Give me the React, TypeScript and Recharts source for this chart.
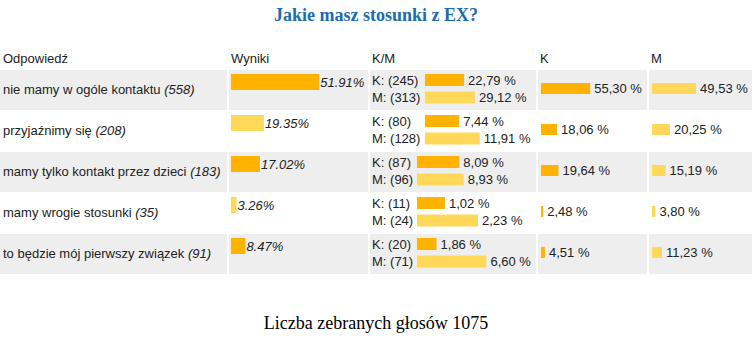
import { BarChart, Bar, XAxis, YAxis, LabelList, Cell } from "recharts";

const answers = [
  "nie mamy w ogóle kontaktu",
  "przyjaźnimy się",
  "mamy tylko kontakt przez dzieci",
  "mamy wrogie stosunki",
  "to będzie mój pierwszy związek",
];
const counts = [558, 208, 183, 35, 91];
const resultPct = [51.91, 19.35, 17.02, 3.26, 8.47];
const kCounts = [245, 80, 87, 11, 20];
const mCounts = [313, 128, 96, 24, 71];
const kOfAll = [22.79, 7.44, 8.09, 1.02, 1.86];
const mOfAll = [29.12, 11.91, 8.93, 2.23, 6.6];
const kShare = [55.3, 18.06, 19.64, 2.48, 4.51];
const mShare = [49.53, 20.25, 15.19, 3.8, 11.23];
const headers = ["Odpowiedź", "Wyniki", "K/M", "K", "M"];
const title = "Jakie masz stosunki z EX?";
const totalVotes = 1075;

const ORANGE = "#FFB300";
const LIGHT = "#FFD85A";
const GRAY = "#EEEEEE";
const TXT = "#222";
const SANS = "'Liberation Sans', Arial, sans-serif";
const SERIF = "'Liberation Serif', 'Times New Roman', serif";

const ROW_TOP = 70;
const ROW_H = 41;
const CELL_H = 40;
// cell left edge / width per column (2px white spacing between cells)
const cols = [
  { x: 0, w: 227 },
  { x: 229, w: 139 },
  { x: 370, w: 166 },
  { x: 538, w: 109 },
  { x: 649, w: 103 },
];
const headerX = [3, 231, 372, 540, 651];

const fmtPl = (v: number) => v.toFixed(2).replace(".", ",") + " %";

// text placed just right of a bar, vertically centred on it
function barText(offset: number, italic = false) {
  return (p: any) => {
    const vb = p.viewBox ?? p;
    return (
      <text
        x={vb.x + vb.width + offset}
        y={vb.y + vb.height / 2}
        dy={4.5}
        fontSize={13}
        fill={TXT}
        fontFamily={SANS}
        fontStyle={italic ? "italic" : "normal"}
        textAnchor="start"
      >
        {p.value}
      </text>
    );
  };
}

export default function App() {
  const resultData = answers.map((a, i) => ({
    name: a,
    value: resultPct[i],
    label: resultPct[i].toFixed(2) + "%",
    color: i % 2 === 0 ? ORANGE : LIGHT,
  }));
  const kData = answers.map((a, i) => ({ name: a, value: kShare[i], label: fmtPl(kShare[i]) }));
  const mData = answers.map((a, i) => ({ name: a, value: mShare[i], label: fmtPl(mShare[i]) }));

  return (
    <div style={{ position: "absolute", left: 0, top: 0, width: 752, height: 356, background: "#fff", fontFamily: SANS, color: TXT, overflow: "hidden" }}>
      <div style={{ position: "absolute", left: 0, top: 6, width: 752, textAlign: "center", fontFamily: SERIF, fontWeight: "bold", fontSize: 18, lineHeight: "18px", color: "#1b6cb0" }}>
        {title}
      </div>

      {headers.map((h, i) => (
        <div key={h} style={{ position: "absolute", left: headerX[i], top: 51, fontSize: 13, lineHeight: "15px", whiteSpace: "nowrap" }}>{h}</div>
      ))}

      {/* row backgrounds */}
      {answers.map((_, r) =>
        r % 2 === 0
          ? cols.map((c, ci) => (
              <div key={`${r}-${ci}`} style={{ position: "absolute", left: c.x, top: ROW_TOP + r * ROW_H, width: c.w, height: CELL_H, background: GRAY }} />
            ))
          : null
      )}

      {/* answer labels */}
      {answers.map((a, r) => (
        <div key={a} style={{ position: "absolute", left: 3, top: ROW_TOP + r * ROW_H + 12, fontSize: 13, lineHeight: "15px", whiteSpace: "nowrap" }}>
          {a} <i>({counts[r]})</i>
        </div>
      ))}

      {/* Wyniki column */}
      <div style={{ position: "absolute", left: 229, top: ROW_TOP - 9 }}>
        <BarChart width={172} height={ROW_H * 5} data={resultData} layout="vertical" margin={{ top: 0, right: 0, bottom: 0, left: 2 }} style={{ overflow: "visible" }}>
          <XAxis type="number" domain={[0, 100]} hide />
          <YAxis type="category" dataKey="name" hide />
          <Bar dataKey="value" barSize={16} isAnimationActive={false}>
            {resultData.map((d, i) => (
              <Cell key={i} fill={d.color} />
            ))}
            <LabelList dataKey="label" content={barText(1, true)} />
          </Bar>
        </BarChart>
      </div>

      {/* K/M column, one small chart per row */}
      {answers.map((_, r) => {
        const k = kCounts[r];
        const m = mCounts[r];
        const rows = [
          { label: `K: (${k})`, value: (k / (k + m)) * 100, txt: fmtPl(kOfAll[r]), color: ORANGE },
          { label: `M: (${m})`, value: (m / (k + m)) * 100, txt: fmtPl(mOfAll[r]), color: LIGHT },
        ];
        const labelW = Math.max(k, m) >= 100 ? 55 : 47;
        return (
          <div key={r} style={{ position: "absolute", left: 370, top: ROW_TOP + r * ROW_H }}>
            <BarChart width={labelW + 89 + 70} height={36} data={rows} layout="vertical" margin={{ top: 1, right: 70, bottom: 0, left: 0 }}>
              <XAxis type="number" domain={[0, 100]} hide />
              <YAxis
                type="category"
                dataKey="label"
                width={labelW}
                interval={0}
                axisLine={false}
                tickLine={false}
                tick={(p: any) => (
                  <text x={2} y={p.y} dy={5} fontSize={13} fill={TXT} fontFamily={SANS} textAnchor="start">
                    {p.payload.value}
                  </text>
                )}
              />
              <Bar dataKey="value" barSize={12} isAnimationActive={false}>
                {rows.map((d, i) => (
                  <Cell key={i} fill={d.color} />
                ))}
                <LabelList dataKey="txt" content={barText(4)} />
              </Bar>
            </BarChart>
          </div>
        );
      })}

      {/* K column */}
      <div style={{ position: "absolute", left: 538, top: ROW_TOP - 2 }}>
        <BarChart width={109} height={ROW_H * 5} data={kData} layout="vertical" margin={{ top: 0, right: 17, bottom: 0, left: 3 }}>
          <XAxis type="number" domain={[0, 100]} hide />
          <YAxis type="category" dataKey="name" hide />
          <Bar dataKey="value" barSize={11} fill={ORANGE} isAnimationActive={false}>
            <LabelList dataKey="label" content={barText(4)} />
          </Bar>
        </BarChart>
      </div>

      {/* M column */}
      <div style={{ position: "absolute", left: 649, top: ROW_TOP - 2 }}>
        <BarChart width={103} height={ROW_H * 5} data={mData} layout="vertical" margin={{ top: 0, right: 11, bottom: 0, left: 3 }}>
          <XAxis type="number" domain={[0, 100]} hide />
          <YAxis type="category" dataKey="name" hide />
          <Bar dataKey="value" barSize={11} fill={LIGHT} isAnimationActive={false}>
            <LabelList dataKey="label" content={barText(4)} />
          </Bar>
        </BarChart>
      </div>

      <div style={{ position: "absolute", left: 0, top: 314, width: 752, textAlign: "center", fontFamily: SERIF, fontSize: 18, lineHeight: "18px", color: "#000" }}>
        Liczba zebranych głosów {totalVotes}
      </div>
    </div>
  );
}
